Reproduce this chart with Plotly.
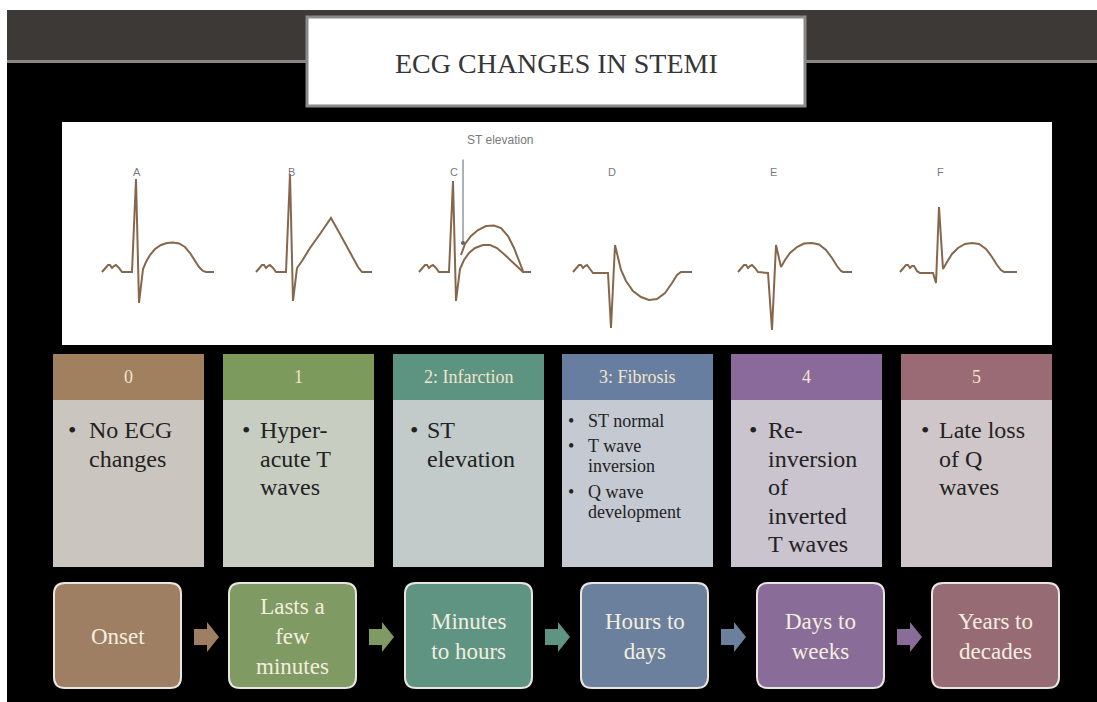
import plotly.graph_objects as go

W, H = 1097, 702

# --- data -----------------------------------------------------------------
title_text = "ECG CHANGES IN STEMI"

stage_labels = ["0", "1", "2: Infarction", "3: Fibrosis", "4", "5"]
stage_bullets = [
    [["No ECG", "changes"]],
    [["Hyper-", "acute T", "waves"]],
    [["ST", "elevation"]],
    [["ST normal"], ["T wave", "inversion"], ["Q wave", "development"]],
    [["Re-", "inversion", "of", "inverted", "T waves"]],
    [["Late loss", "of Q", "waves"]],
]
durations = [
    ["Onset"],
    ["Lasts a", "few", "minutes"],
    ["Minutes", "to hours"],
    ["Hours to", "days"],
    ["Days to", "weeks"],
    ["Years to", "decades"],
]

ecg_letters = ["A", "B", "C", "D", "E", "F"]

# waveform samples: x offset from the main spike, amplitude (px, up positive)
wave_a_x = [-34, -31, -28, -26, -24, -22, -20, -17, -14, -4, 0, 3, 7, 10, 14, 19, 25, 31, 37, 43, 49, 54, 59, 63, 67, 70, 78]
wave_a_y = [0, 3, 7, 7, 4, 6, 7, 4, 0, 0, 93, -31, 3, 10, 17, 23, 27, 29, 29.5, 28.5, 25, 19, 11, 5, 1, 0, 0]
wave_b_x = [-34, -31, -28, -26, -24, -22, -20, -17, -14, -4, 0, 3, 7, 12, 20, 30, 41, 50, 60, 68, 72, 82]
wave_b_y = [0, 3, 7, 7, 4, 6, 7, 4, 0, 0, 98, -29, 4, 11, 24, 38, 54, 38, 19, 5, 0, 0]
wave_c_x = [-34, -31, -28, -26, -24, -22, -20, -17, -14, -4, 0, 3, 7, 11, 16, 22, 30, 37, 44, 52, 60, 66, 70, 78]
wave_c_y = [0, 3, 7, 7, 4, 6, 7, 4, 0, 0, 91, -29, 3, 12, 19, 24, 27, 27, 24, 17, 9, 3, 0, 0]
wave_c_st_x = [8, 12, 18, 25, 33, 41, 48, 55, 61, 66, 70]
wave_c_st_y = [17, 28, 36, 42, 46, 46.5, 44, 36, 24, 12, 1]
wave_d_x = [-38, -35, -32, -30, -28, -26, -24, -21, -18, -3, 0, 4, 7, 10, 15, 22, 30, 38, 46, 54, 61, 66, 70, 81]
wave_d_y = [0, 4, 7, 7, 4, 6, 7, 3, -1, -1, -56, 27, 13, 2, -9, -19, -25, -28, -27, -21, -11, -3, 0, 0]
wave_e_x = [-34, -31, -28, -26, -24, -22, -20, -17, -14, -4, 0, 4, 9, 13, 18, 25, 32, 40, 47, 54, 60, 65, 69, 71, 80]
wave_e_y = [0, 3, 7, 7, 4, 6, 7, 4, 0, -1, -58, 27, 5, 12, 19, 25, 28.5, 29, 27.5, 22, 14, 6, 1, 0, 0]
wave_f_x = [-39, -36, -33, -31, -29, -27, -25, -22, -19, -6, -3, 0, 4, 8, 13, 19, 26, 33, 40, 47, 53, 58, 62, 65, 78]
wave_f_y = [0, 3, 7, 7, 4, 6, 6, 1, -1, -1, -11, 65, 3, 10, 18, 24, 28, 29, 28, 23, 15, 7, 2, 0, 0]

waves = [(wave_a_x, wave_a_y), (wave_b_x, wave_b_y), (wave_c_x, wave_c_y),
         (wave_d_x, wave_d_y), (wave_e_x, wave_e_y), (wave_f_x, wave_f_y)]

# --- styling / layout positions ---------------------------------------------
header_colors = ["#a0805f", "#7b9a5c", "#5c9381", "#687ea0", "#8a6a9a", "#9a6b74"]
body_colors = ["#cbc5bf", "#c8cdc2", "#c2cbc9", "#c5c9d1", "#cac4cf", "#cfc6c9"]
box_colors = ["#9e7f63", "#7f9a62", "#5f9483", "#6b809d", "#8a6c99", "#976b74"]

spike_x = [136, 290, 453, 611, 772, 939]
baseline = 272
ecg_color = "#86674b"
serif = "Liberation Serif, Times New Roman, serif"
sans = "Liberation Sans, Arial, sans-serif"

shapes = []
annotations = []


def rect(x0, y0, x1, y1, fill, line_color=None, line_width=0):
    shapes.append(dict(type="rect", xref="x", yref="y", x0=x0, y0=y0, x1=x1, y1=y1,
                       fillcolor=fill, line=dict(color=line_color or fill, width=line_width),
                       layer="below"))


def text(x, y, s, size, color, font=serif, xanchor="center"):
    annotations.append(dict(x=x, y=y, xref="x", yref="y", text=s, showarrow=False,
                            xanchor=xanchor, yanchor="middle",
                            font=dict(family=font, size=size, color=color)))


def rounded(x0, y0, x1, y1, r):
    return (f"M{x0 + r},{y0} L{x1 - r},{y0} Q{x1},{y0} {x1},{y0 + r} "
            f"L{x1},{y1 - r} Q{x1},{y1} {x1 - r},{y1} L{x0 + r},{y1} "
            f"Q{x0},{y1} {x0},{y1 - r} L{x0},{y0 + r} Q{x0},{y0} {x0 + r},{y0} Z")


# background
rect(7, 10, W, H, "#000000")
rect(7, 10, W, 61, "#3c3936")
rect(7, 60, W, 63, "#8c8781")

# title box
rect(307, 17, 805, 106, "#ffffff", "#8a8a8a", 3)
text(556, 63, title_text, 28, "#363636")

# ECG panel
rect(62, 122, 1052, 345, "#ffffff")

fig = go.Figure()
for (wx, wy), sx, letter in zip(waves, spike_x, ecg_letters):
    fig.add_trace(go.Scatter(x=[sx + v for v in wx], y=[baseline - v for v in wy],
                             mode="lines", line=dict(color=ecg_color, width=2),
                             hoverinfo="skip", showlegend=False))
    text(sx + 1, 172, letter, 11, "#7a7a7a", font=sans)

fig.add_trace(go.Scatter(x=[spike_x[2] + v for v in wave_c_st_x],
                         y=[baseline - v for v in wave_c_st_y],
                         mode="lines", line=dict(color=ecg_color, width=2),
                         hoverinfo="skip", showlegend=False))

# ST elevation pointer
annotations.append(dict(x=463, y=243, ax=463, ay=158, xref="x", yref="y", axref="x", ayref="y",
                        text="", showarrow=True, arrowhead=6, arrowsize=1, arrowwidth=1,
                        arrowcolor="#5a6470"))
text(500, 140, "ST elevation", 12, "#7a7a7a", font=sans)

# stage columns
col_x0 = [53, 223, 393, 562, 731, 901]
col_w = 151
bullet_dx = [13, 17, 15, 4, 16, 18]
text_dx = [34, 35, 32, 24, 35, 36]
for i, label in enumerate(stage_labels):
    x0 = col_x0[i]
    rect(x0, 354, x0 + col_w, 400, header_colors[i])
    rect(x0, 400, x0 + col_w, 567, body_colors[i])
    text(x0 + col_w / 2, 377, label, 18, "#efe5cc")
    items = stage_bullets[i]
    if len(items) == 1:
        size, step, starts = 24, 28.5, [430]
    else:
        size, step, starts = 18, 20, [421, 446, 492]
    for item, y0 in zip(items, starts):
        text(x0 + bullet_dx[i], y0, "•", size, "#222222", xanchor="left")
        for k, line in enumerate(item):
            text(x0 + text_dx[i], y0 + k * step, line, size, "#222222", xanchor="left")

# duration boxes and arrows
box_x0 = [54, 229, 405, 581, 757, 932]
box_w = 127
for i, lines in enumerate(durations):
    x0 = box_x0[i]
    shapes.append(dict(type="path", path=rounded(x0, 583, x0 + box_w, 688, 11),
                       fillcolor=box_colors[i], line=dict(color="#e9e5e1", width=2),
                       layer="below"))
    text(x0 + box_w / 2, 636, "<br>".join(lines), 23, "#f3eedf")
    if i < len(durations) - 1:
        xa, cy = x0 + box_w + 13, 637
        shapes.append(dict(type="path", layer="below", fillcolor=box_colors[i],
                           line=dict(width=0),
                           path=(f"M{xa},{cy - 8} L{xa + 13},{cy - 8} L{xa + 13},{cy - 15} "
                                 f"L{xa + 25},{cy} L{xa + 13},{cy + 15} L{xa + 13},{cy + 8} "
                                 f"L{xa},{cy + 8} Z")))

fig.update_layout(
    width=W, height=H,
    margin=dict(l=0, r=0, t=0, b=0),
    paper_bgcolor="#ffffff", plot_bgcolor="#ffffff",
    xaxis=dict(range=[0, W], visible=False, fixedrange=True),
    yaxis=dict(range=[H, 0], visible=False, fixedrange=True),
    shapes=shapes, annotations=annotations,
    showlegend=False,
)

# drop the default page margin so the figure fills the window exactly
fig.write_html("out.html", config={"displayModeBar": False},
               post_script="document.body.style.margin='0';document.body.style.overflow='hidden';")
